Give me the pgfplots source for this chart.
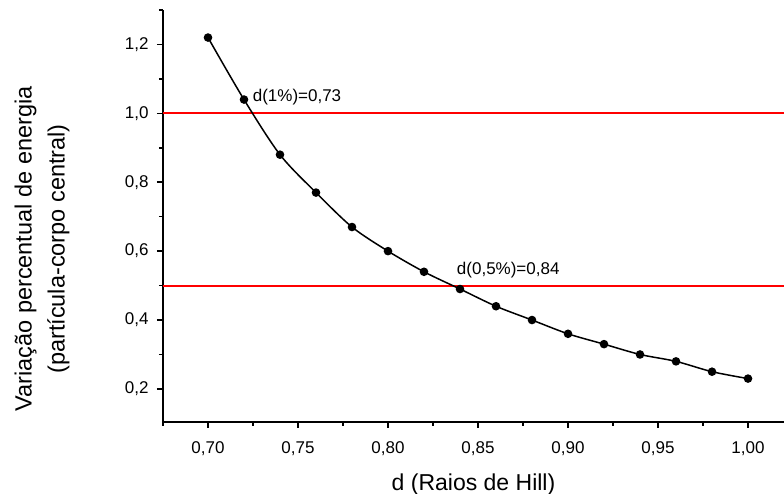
\documentclass[border=0pt]{standalone}
\usepackage{pgfplots}
\pgfplotsset{compat=1.18}
\usepackage{fontspec}
\setmainfont{Liberation Sans}

\begin{document}
\begin{tikzpicture}
\begin{axis}[
    name=ax,
    scale only axis,
    width=621pt, height=412pt,
    xmin=0.675, xmax=1.02,
    ymin=0.104, ymax=1.3,
    axis lines*=left,
    axis line style={line width=2pt},
    tick align=outside,
    major tick length=6pt, minor tick length=4pt,
    every tick/.style={line width=1.6pt, black},
    xtick={0.70,0.75,0.80,0.85,0.90,0.95,1.00},
    minor xtick={0.675,0.725,0.775,0.825,0.875,0.925,0.975},
    ytick={0.2,0.4,0.6,0.8,1.0,1.2},
    minor ytick={0.3,0.5,0.7,0.9,1.1,1.3},
    /pgf/number format/assume math mode=true,
    xticklabel style={font=\fontsize{17}{18}\selectfont, yshift=-10pt,
        /pgf/number format/.cd, fixed, fixed zerofill, precision=2, use comma},
    yticklabel style={font=\fontsize{17}{18}\selectfont, xshift=-5pt,
        /pgf/number format/.cd, fixed, fixed zerofill, precision=1, use comma},
    xlabel={d (Raios de Hill)},
    xlabel style={font=\fontsize{23}{28}\selectfont, yshift=-11pt},
    ylabel={Variação percentual de energia\\(partícula-corpo central)},
    ylabel style={font=\fontsize{23.5}{33}\selectfont, align=center,
        at={(rel axis cs:0,0.42)}, anchor=center, yshift=121pt},
    clip=false,
]

% limites de 1% e 0,5%
\addplot[red, line width=2pt] coordinates {(0.675,1.0) (1.02,1.0)};
\addplot[red, line width=2pt] coordinates {(0.675,0.5) (1.02,0.5)};

\addplot[black, line width=1.5pt, smooth, mark=*, mark size=3.5pt] coordinates {
    (0.70,1.22) (0.72,1.04) (0.74,0.88) (0.76,0.77) (0.78,0.67)
    (0.80,0.60) (0.82,0.54) (0.84,0.49) (0.86,0.44) (0.88,0.40)
    (0.90,0.36) (0.92,0.33) (0.94,0.30) (0.96,0.28) (0.98,0.25)
    (1.00,0.23)
};

\node[anchor=base west, inner sep=0pt, font=\fontsize{17}{20}\selectfont]
    at (axis cs:0.7248,1.035) {d(1\%)=0,73};
\node[anchor=base west, inner sep=0pt, font=\fontsize{17}{20}\selectfont]
    at (axis cs:0.8382,0.5325) {d(0,5\%)=0,84};

\end{axis}
\pgfresetboundingbox
\path ([xshift=-163pt,yshift=-72pt]ax.south west) rectangle ([yshift=10pt]ax.north east);
\end{tikzpicture}
\end{document}
